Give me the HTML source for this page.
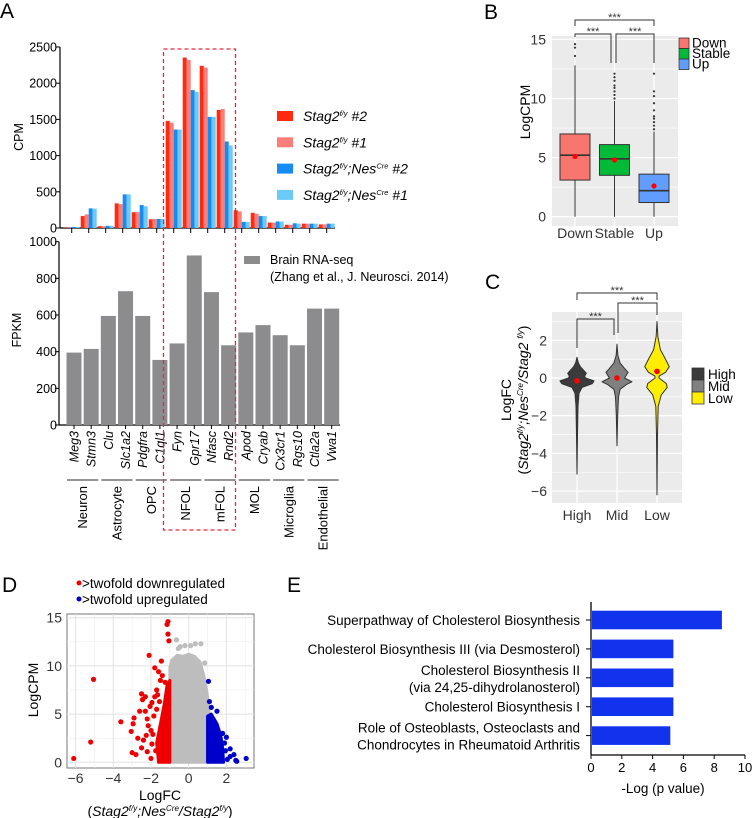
<!DOCTYPE html>
<html><head><meta charset="utf-8"><style>
html,body{margin:0;padding:0;background:#fff;}
svg{display:block;font-family:"Liberation Sans",Arial,sans-serif;}
</style></head><body>
<svg id="fig" width="752" height="818" viewBox="0 0 752 818" xmlns="http://www.w3.org/2000/svg">
<text x="0" y="18" font-size="21">A</text>
<text x="484" y="19" font-size="21">B</text>
<text x="485" y="289" font-size="21">C</text>
<text x="2" y="592" font-size="21">D</text>
<text x="287" y="592" font-size="21">E</text>
</svg>
<script>
const NS='http://www.w3.org/2000/svg';
const svg=document.getElementById('fig');
function mk(tag,attrs,parent){const e=document.createElementNS(NS,tag);for(const k in attrs)e.setAttribute(k,attrs[k]);(parent||svg).appendChild(e);return e;}

/* ---------- Panel A data ---------- */
const genes=['Meg3','Stmn3','Clu','Slc1a2','Pdgfra','C1ql1','Fyn','Gpr17','Nfasc','Rnd2','Apod','Cryab','Cx3cr1','Rgs10','Ctla2a','Vwa1'];
const cpmRed2=[5,165,25,340,218,120,1480,2355,2240,1630,245,210,75,45,60,50];
const cpmRed1=[5,188,25,330,218,125,1455,2320,2215,1645,230,195,75,45,60,50];
const cpmBlue2=[15,271,30,465,317,125,1360,1905,1535,1195,85,165,90,65,60,60];
const cpmBlue1=[15,267,30,465,300,125,1360,1880,1535,1140,85,165,90,60,60,60];
const cpmTicks=[0,500,1000,1500,2000,2500];
const fpkm=[395,415,595,730,595,355,445,925,725,435,505,545,490,435,635,635];
const fpkmTicks=[0,200,400,600,800,1000];
const cellGroups=['Neuron','Astrocyte','OPC','NFOL','mFOL','MOL','Microglia','Endothelial'];
const groupStart=[0,2,4,6,8,10,12,14];
const groupEnd=[1,3,5,7,9,11,13,15];

/* ---------- Panel B data ---------- */
const bCats=['Down','Stable','Up'];
const bQ1=[3.1,3.5,1.2];
const bMed=[5.2,4.9,2.2];
const bQ3=[7.0,6.1,3.6];
const bMean=[5.1,4.8,2.6];
const bLo=[0,0,0];
const bHi=[12.8,9.8,7.2];
const bOut=[[13.6,14.3,14.6],[10.0,10.3,10.6,10.9,11.1,11.5,11.8,12.1],[7.4,7.7,8.0,8.3,8.5,9.0,9.6,10.2,10.6,12.1]];
const bTicks=[0,5,10,15];

/* ---------- Panel C data ---------- */
const cCats=['High','Mid','Low'];
const cMean=[-0.15,0,0.35];
const vY=[[-5.1,-3,-1.5,-0.8,-0.5,-0.3,-0.15,0,0.1,0.25,0.4,0.6,0.8,1.1],
          [-3.6,-2,-1,-0.6,-0.35,-0.2,0,0.15,0.3,0.5,0.8,1.2,1.8],
          [-6.2,-3,-1.5,-0.9,-0.5,-0.3,0,0.1,0.3,0.6,1.0,1.5,2.2,3.0]];
const vW=[[0,0.03,0.06,0.12,0.3,0.9,1.0,0.5,0.45,0.55,0.4,0.2,0.08,0],
          [0,0.04,0.09,0.18,0.55,0.88,0.45,0.55,0.65,0.45,0.18,0.05,0],
          [0,0.03,0.07,0.25,0.6,0.55,0.12,0.12,0.5,0.72,0.5,0.2,0.05,0]];
const cTicks=[-6,-4,-2,0,2];

/* ---------- Panel D data ---------- */
const grayEnvX=[-1,-1,-0.9,-0.6,-0.3,0,0.3,0.6,0.8,0.95,1.05,1.1,1.1];
const grayEnvY=[0,9.8,10.6,11.1,11.0,11.2,11.0,10.4,9.0,7.5,6.0,4.5,0];
const grayPtX=[-0.65,-0.45,-0.2,0.1,0.35,0.65,-0.55,0.85];
const grayPtY=[12.7,12.0,12.1,12.1,12.3,12.3,11.8,10.3];
const redEnvX=[-1.0,-1.6,-1.7,-1.5,-1.3,-1.15,-1.0];
const redEnvY=[0,0,2,4,6,8,8.5];
const redPtX=[-6.1,-5.2,-5.05,-3.6,-3.05,-3.0,-2.9,-2.95,-2.7,-2.6,-2.5,-2.45,-2.3,-2.2,-2.1,-2.0,-1.8,-1.6,-1.45,-1.25,-1.1,-1.15,-1.05,-1.1,-2.3,-2.2,-1.95,-2.5,-2.8,-2.4,-1.7,-1.5,-2.05,-1.85,-1.9,-2.0,-1.75,-2.15,-1.8,-1.65,-1.4,-1.95,-2.25,-1.7,-1.55];
const redPtY=[0.4,2.1,8.6,4.2,3.2,1.0,4.6,4.0,2.5,5.3,7.1,6.5,5.3,1.1,11.1,3.3,9.8,9.4,10.5,8.3,14.6,14.3,12.6,13.3,6.8,4.5,6.2,1.5,0.8,2.3,7.5,8.5,5.8,4.8,2.9,0.4,1.2,3.8,6.8,7.0,9.0,1.9,2.8,5.5,6.3];
const blueEnvX=[1.0,1.0,1.2,1.5,1.7,1.8,1.85];
const blueEnvY=[0,4.8,5.0,4.0,2.8,1.5,0];
const bluePtX=[1.05,1.1,1.2,2.0,2.2,2.4,2.55,3.05,2.5,2.2,1.8,1.5,1.95,2.05,1.9];
const bluePtY=[8.4,6.3,5.7,2.6,0.6,0.8,0.1,0.4,0.2,1.4,3.0,5.3,1.2,0.3,2.0];
const dXTicks=[-6,-4,-2,0,2];
const dYTicks=[0,5,10,15];

/* ---------- Panel E data ---------- */
const pathways=[['Superpathway of Cholesterol Biosynthesis'],['Cholesterol Biosynthesis III (via Desmosterol)'],['Cholesterol Biosynthesis II ','(via 24,25-dihydrolanosterol)'],['Cholesterol Biosynthesis I'],['Role of Osteoblasts, Osteoclasts and ','Chondrocytes in Rheumatoid Arthritis']];
const pvals=[8.5,5.35,5.35,5.35,5.15];
const eTicks=[0,2,4,6,8,10];

/* ================= Panel A ================= */
const yTop=v=>228-v*181/2500;
const xTop=i=>71.7+17*i;
const yBot=v=>425-v*183.3/1000;
const xBot=i=>74+17.18*i;
let e;
e=mk('line',{x1:60,y1:47,x2:60,y2:228,stroke:'#000','stroke-width':1.2});


e=mk('line',{x1:60,y1:228,x2:335,y2:228,stroke:'#000','stroke-width':1.2});


cpmTicks.forEach(t=>{
  e=mk('line',{x1:56,y1:yTop(t),x2:60,y2:yTop(t),stroke:'#000'});
  
  
  e=mk('text',{x:57,y:yTop(t)+4.5,'font-size':12.5,'text-anchor':'end'});
  e.textContent=t;
  
  
});
e=mk('text',{x:23,y:137,'font-size':12.5,'text-anchor':'middle',transform:'rotate(-90 23 137)'});
e.textContent='CPM';


const series=[[cpmRed2,'#ff2a10'],[cpmRed1,'#fb7e78'],[cpmBlue2,'#168cf2'],[cpmBlue1,'#6ccaf8']];
genes.forEach((g,i)=>{
  const c=xTop(i);
  e=mk('line',{x1:c,y1:228,x2:c,y2:233,stroke:'#000'});
  
  
  series.forEach((s,k)=>{
    const v=s[0][i];
    e=mk('rect',{x:c-8+k*4,y:yTop(v),width:4,height:228-yTop(v),fill:s[1]});
    
    
  });
});
const legLabels=[['#2',''],['#1',''],['#2',';Nes'],['#1',';Nes']];
legLabels.forEach((l,k)=>{
  const y=116+k*26.3;
  e=mk('rect',{x:277,y:y-5,width:16,height:10,fill:series[k][1]});
  
  
  e=mk('text',{x:303,y:y+5,'font-size':14,'font-style':'italic'});
  
  
  let h='Stag2<tspan font-size="7.5" dy="-5">f/y</tspan>';
  if(l[1]) h+='<tspan dy="5">;Nes</tspan><tspan font-size="7.5" dy="-5">Cre</tspan><tspan dy="5"> '+l[0]+'</tspan>';
  else h+='<tspan dy="5"> '+l[0]+'</tspan>';
  e.innerHTML=h;
});
e=mk('line',{x1:59,y1:241.7,x2:59,y2:425,stroke:'#000','stroke-width':1.2});


e=mk('line',{x1:59,y1:425,x2:340,y2:425,stroke:'#000','stroke-width':1.2});


fpkmTicks.forEach(t=>{
  e=mk('line',{x1:55,y1:yBot(t),x2:59,y2:yBot(t),stroke:'#000'});
  
  
  e=mk('text',{x:57,y:yBot(t)+4.5,'font-size':12.5,'text-anchor':'end'});
  e.textContent=t;
  
  
});
e=mk('text',{x:21,y:330,'font-size':12.5,'text-anchor':'middle',transform:'rotate(-90 21 330)'});
e.textContent='FPKM';


genes.forEach((g,i)=>{
  const c=xBot(i);
  e=mk('rect',{x:c-7.5,y:yBot(fpkm[i]),width:15,height:425-yBot(fpkm[i]),fill:'#8c8c8e'});
  
  
  e=mk('line',{x1:c,y1:425,x2:c,y2:429,stroke:'#000'});
  
  
  e=mk('text',{x:c+4.5,y:431,'font-size':12.5,'font-style':'italic','text-anchor':'end',transform:'rotate(-90 '+(c+4.5)+' 431)'});
  e.textContent=g;
  
  
});
cellGroups.forEach((cg,k)=>{
  const x1=xBot(groupStart[k])-7,x2=xBot(groupEnd[k])+7;
  e=mk('line',{x1:x1,y1:480,x2:x2,y2:480,stroke:'#555','stroke-width':1.2});
  
  
  const c=(x1+x2)/2+4.5;
  e=mk('text',{x:c,y:486,'font-size':13,'text-anchor':'end',transform:'rotate(-90 '+c+' 486)'});
  e.textContent=cg;
  
  
});
e=mk('rect',{x:244,y:256,width:16,height:8,fill:'#8c8c8e'});


e=mk('text',{x:270,y:264,'font-size':12.5});
e.textContent='Brain RNA-seq';


e=mk('text',{x:270,y:281,'font-size':12.5});
e.textContent='(Zhang et al., J. Neurosci. 2014)';


e=mk('rect',{x:163.5,y:49,width:72,height:481,fill:'none',stroke:'#e6283c','stroke-width':1.3,'stroke-dasharray':'4,3'});



/* ================= Panel B ================= */
const yB=v=>216.7-v*59.1/5;
const xB=i=>575+39.5*i;
e=mk('rect',{x:552,y:36,width:126,height:190,fill:'#ebebeb'});


[2.5,7.5,12.5].forEach(t=>{e=mk('line',{x1:552,x2:678,y1:yB(t),y2:yB(t),stroke:'#fff','stroke-width':0.6});

});
bTicks.forEach(t=>{
  e=mk('line',{x1:552,x2:678,y1:yB(t),y2:yB(t),stroke:'#fff','stroke-width':1.3});
  
  
  e=mk('text',{x:546,y:yB(t)+5,'font-size':14,'text-anchor':'end',fill:'#333'});
  e.textContent=t;
  
  
});
e=mk('text',{x:530,y:112,'font-size':14,'text-anchor':'middle',transform:'rotate(-90 530 112)'});
e.textContent='LogCPM';


const bCol=['#f8766d','#00ba38','#619cff'];
bCats.forEach((c,i)=>{
  const x=xB(i);
  e=mk('line',{x1:x,x2:x,y1:36,y2:226,stroke:'#fff','stroke-width':1.2});
  
  
  e=mk('line',{x1:x,x2:x,y1:yB(bLo[i]),y2:yB(bHi[i]),stroke:'#333','stroke-width':1});
  
  
  bOut[i].forEach(o=>{e=mk('circle',{cx:x,cy:yB(o),r:1.1,fill:'#333'});
  
  });
  e=mk('rect',{x:x-15,y:yB(bQ3[i]),width:30,height:yB(bQ1[i])-yB(bQ3[i]),fill:bCol[i],stroke:'#333','stroke-width':1});
  
  
  e=mk('line',{x1:x-15,x2:x+15,y1:yB(bMed[i]),y2:yB(bMed[i]),stroke:'#333','stroke-width':1.6});
  
  
  e=mk('circle',{cx:x,cy:yB(bMean[i]),r:2.6,fill:'#f00'});
  
  
  e=mk('text',{x:x,y:238,'font-size':14,'text-anchor':'middle',fill:'#333'});
  e.textContent=c;
  
  
  e=mk('rect',{x:679,y:38+i*10.5,width:10,height:10.5,fill:bCol[i],stroke:'#333','stroke-width':0.8});
  
  
  e=mk('text',{x:692,y:47.5+i*10.5,'font-size':13.5});
  e.textContent=c;
  
  
});
function bracket(x1,x2,y,d1,d2,name,ty){
  e=mk('path',{d:'M'+x1+' '+d1+'V'+y+'H'+x2+'V'+d2,fill:'none',stroke:'#333','stroke-width':1});
  
  
  e=mk('text',{x:(x1+x2)/2,y:ty,'font-size':11,'text-anchor':'middle',fill:'#333'});
  e.textContent='***';
  
  
}
bracket(575,654,20,26,26,'bracket-down-up',21);
bracket(575,611,34,37,63,'bracket-down-stable',35);
bracket(616,654,34,63,63,'bracket-stable-up',35);

/* ================= Panel C ================= */
const yC=v=>378-v*37.7/2;
const xC=i=>577+40*i;
e=mk('rect',{x:552,y:312,width:130,height:191,fill:'#ebebeb'});


[-5,-3,-1,1,3].forEach(t=>{e=mk('line',{x1:552,x2:682,y1:yC(t),y2:yC(t),stroke:'#fff','stroke-width':0.6});

});
cTicks.forEach(t=>{
  e=mk('line',{x1:552,x2:682,y1:yC(t),y2:yC(t),stroke:'#fff','stroke-width':1.3});
  
  
  e=mk('text',{x:547,y:yC(t)+5,'font-size':14,'text-anchor':'end',fill:'#333'});
  e.textContent=t<0?'\u2212'+(-t):t;
  
  
});
e=mk('text',{x:511,y:400,'font-size':14,'text-anchor':'middle',transform:'rotate(-90 511 400)'});
e.textContent='LogFC';


e=mk('text',{x:528,y:400,'font-size':14,'text-anchor':'middle',transform:'rotate(-90 528 400)'});
e.innerHTML='(<tspan font-style="italic">Stag2</tspan><tspan font-size="8" dy="-5" font-style="italic">f/y</tspan><tspan dy="5" font-style="italic">;Nes</tspan><tspan font-size="8" dy="-5" font-style="italic">Cre</tspan><tspan dy="5" font-style="italic">/Stag2 </tspan><tspan font-size="8" dy="-5" font-style="italic">f/y</tspan><tspan dy="5">)</tspan>';


const cCol=['#3b3b3b','#808080','#ffee00'];
cCats.forEach((c,i)=>{
  const x=xC(i);
  e=mk('line',{x1:x,x2:x,y1:312,y2:503,stroke:'#fff','stroke-width':1.2});
  
  
  let d='';
  vY[i].forEach((v,k)=>{d+=(k?'L':'M')+(x+vW[i][k]*17)+' '+yC(v);});
  for(let k=vY[i].length-1;k>=0;k--){d+='L'+(x-vW[i][k]*17)+' '+yC(vY[i][k]);}
  e=mk('path',{d:d+'Z',fill:cCol[i],stroke:'#333','stroke-width':1,'stroke-linejoin':'round'});
  
  
  e=mk('circle',{cx:x,cy:yC(cMean[i]),r:2.8,fill:'#f00'});
  
  
  e=mk('text',{x:x,y:520,'font-size':14,'text-anchor':'middle',fill:'#333'});
  e.textContent=c;
  
  
  e=mk('rect',{x:692,y:368+i*12,width:12,height:12,fill:cCol[i],stroke:'#333','stroke-width':0.8});
  
  
  e=mk('text',{x:708,y:379+i*12,'font-size':13.5});
  e.textContent=c;
  
  
});
bracket(577,657,293,300,300,'bracket-high-low',294);
bracket(577,614,319,348,335,'bracket-high-mid',320);
bracket(618,657,303,333,315,'bracket-mid-low',304);

/* ================= Panel D ================= */
const xD=v=>188.7+v*37.7/2;
const yD=v=>762.3-v*48.2/5;
e=mk('rect',{x:67,y:614,width:187,height:154,fill:'#fff',stroke:'#777','stroke-width':1});


[-5,-3,-1,1,3].forEach(t=>{e=mk('line',{x1:xD(t),x2:xD(t),y1:614,y2:768,stroke:'#eee','stroke-width':0.6});

});
[2.5,7.5,12.5].forEach(t=>{e=mk('line',{x1:67,x2:254,y1:yD(t),y2:yD(t),stroke:'#eee','stroke-width':0.6});

});
dXTicks.forEach(t=>{
  e=mk('line',{x1:xD(t),x2:xD(t),y1:614,y2:768,stroke:'#e2e2e2','stroke-width':1});
  
  
  e=mk('text',{x:xD(t),y:783,'font-size':14,'text-anchor':'middle',fill:'#333'});
  e.textContent=t<0?'\u2212'+(-t):t;
  
  
});
dYTicks.forEach(t=>{
  e=mk('line',{x1:67,x2:254,y1:yD(t),y2:yD(t),stroke:'#e2e2e2','stroke-width':1});
  
  
  e=mk('text',{x:62,y:yD(t)+5,'font-size':14,'text-anchor':'end',fill:'#333'});
  e.textContent=t;
  
  
});
function env(xs,ys,col,name){
  let d='';xs.forEach((v,k)=>{d+=(k?'L':'M')+xD(v)+' '+yD(ys[k]);});
  e=mk('path',{d:d+'Z',fill:col,stroke:col,'stroke-width':3,'stroke-linejoin':'round'});
  
  
}
function pts(xs,ys,col,name){
  xs.forEach((v,k)=>{e=mk('circle',{cx:xD(v),cy:yD(ys[k]),r:2.6,fill:col});
  
  });
}
env(grayEnvX,grayEnvY,'#bdbdbd','unchanged-gene-cloud');
pts(grayPtX,grayPtY,'#bdbdbd','unchanged-gene-point');
env(redEnvX,redEnvY,'#ee0000','downregulated-gene-cloud');
pts(redPtX,redPtY,'#ee0000','downregulated-gene-point');
env(blueEnvX,blueEnvY,'#0000cc','upregulated-gene-cloud');
pts(bluePtX,bluePtY,'#0000cc','upregulated-gene-point');
e=mk('text',{x:38,y:690,'font-size':14,'text-anchor':'middle',transform:'rotate(-90 38 690)'});
e.textContent='LogCPM';


e=mk('text',{x:160,y:800,'font-size':14,'text-anchor':'middle'});
e.textContent='LogFC';


e=mk('text',{x:160,y:816,'font-size':14,'text-anchor':'middle'});
e.innerHTML='(<tspan font-style="italic">Stag2</tspan><tspan font-size="8" dy="-5" font-style="italic">f/y</tspan><tspan dy="5" font-style="italic">;Nes</tspan><tspan font-size="8" dy="-5" font-style="italic">Cre</tspan><tspan dy="5" font-style="italic">/Stag2</tspan><tspan font-size="8" dy="-5" font-style="italic">f/y</tspan><tspan dy="5">)</tspan>';


e=mk('circle',{cx:79,cy:583,r:2.5,fill:'#ee0000'});


e=mk('text',{x:82,y:588,'font-size':13.5});
e.textContent='>twofold downregulated';


e=mk('circle',{cx:79,cy:599,r:2.5,fill:'#0000cc'});


e=mk('text',{x:82,y:604,'font-size':13.5});
e.textContent='>twofold upregulated';



/* ================= Panel E ================= */
const xE=v=>591+v*15.4;
const yE=i=>620+28.9*i;
e=mk('line',{x1:591,y1:602,x2:591,y2:755,stroke:'#000','stroke-width':1.3});


e=mk('line',{x1:591,y1:755,x2:745,y2:755,stroke:'#000','stroke-width':1.3});


eTicks.forEach(t=>{
  e=mk('line',{x1:xE(t),x2:xE(t),y1:755,y2:759,stroke:'#000'});
  
  
  e=mk('text',{x:xE(t),y:772,'font-size':13,'text-anchor':'middle'});
  e.textContent=t;
  
  
});
pathways.forEach((p,i)=>{
  const y=yE(i);
  e=mk('rect',{x:592,y:y-9.3,width:xE(pvals[i])-592,height:18.6,fill:'#1133ee'});
  
  
  e=mk('line',{x1:586,x2:591,y1:y,y2:y,stroke:'#000'});
  
  
  p.forEach((line,k)=>{
    const ty=p.length===1?y+5:y-3+k*17;
    e=mk('text',{x:580,y:ty,'font-size':13.5,'text-anchor':'end','xml:space':'preserve'});
    e.textContent=line;
    
    
  });
});
e=mk('text',{x:663,y:793,'font-size':13.5,'text-anchor':'middle'});
e.textContent='-Log (p value)';


</script>
</body></html>
